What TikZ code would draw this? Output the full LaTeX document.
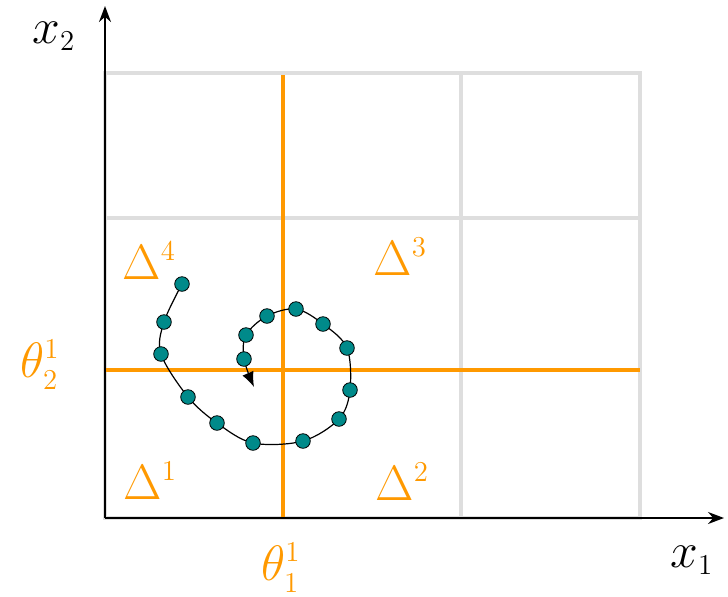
\documentclass[tikz,border=0pt]{standalone}
\usetikzlibrary{arrows.meta}
\DeclareMathSizes{24}{24}{15}{11}
\definecolor{myorange}{RGB}{255,153,0}
\definecolor{mygray}{RGB}{222,222,222}
\definecolor{myteal}{RGB}{0,138,138}
\tikzset{
  gridline/.style={draw=mygray, line width=2pt},
  orangeline/.style={draw=myorange, line width=2pt},
  axis/.style={draw=black, line width=0.9pt, -{Stealth[length=8pt,width=6pt]}},
  lbl/.style={anchor=base west, inner sep=0pt, font=\fontsize{24}{28}\selectfont},
  olbl/.style={lbl, text=myorange},
  dot/.style={circle, draw=black, line width=0.4pt, fill=myteal, minimum size=7.3pt, inner sep=0pt},
}
\begin{document}
\begin{tikzpicture}[x=0.5pt,y=-0.5pt]
\useasboundingbox (0,0) rectangle (728,596);
% grid
\draw[gridline] (105,73) rectangle (640,518);
\draw[gridline] (461,73) -- (461,518);
\draw[gridline] (105,218) -- (640,218);
% orange thresholds
\draw[orangeline] (283,75) -- (283,518);
\draw[orangeline] (105,370) -- (640,370);
% axes
\coordinate (O) at (105,518);
\coordinate (xe) at (724,518);
\coordinate (ye) at (105,6);
\draw[axis] (O) -- (xe);
\draw[axis] (O) -- (ye);
% labels
\node[lbl] (x2) at (32,43) {$x_2$};
\node[lbl] (x1) at (670,567) {$x_1$};
\node[olbl] (t2) at (20,377) {$\theta_2^1$};
\node[olbl] (t1) at (261,580) {$\theta_1^1$};
\node[olbl] (d4) at (122,279) {$\Delta^4$};
\node[olbl] (d3) at (373,275) {$\Delta^3$};
\node[olbl] (d1) at (123,499) {$\Delta^1$};
\node[olbl] (d2) at (375,500) {$\Delta^2$};
% spiral
\coordinate (p1) at (182,284);
\coordinate (p2) at (164,322);
\coordinate (p3) at (161,354);
\coordinate (p4) at (188,397);
\coordinate (p5) at (217,423);
\coordinate (p6) at (253,443);
\coordinate (p7) at (303,441);
\coordinate (p8) at (339,419);
\coordinate (p9) at (350,390);
\coordinate (p10) at (347,348);
\coordinate (p11) at (323,324);
\coordinate (p12) at (296,309);
\coordinate (p13) at (267,316);
\coordinate (p14) at (246,335);
\coordinate (p15) at (244,359);
\coordinate (tip) at (254,387);
\draw[black, line width=0.6pt, -{Latex[length=7.5pt,width=6pt]}] plot[smooth, tension=0.55] coordinates {(p1) (p2) (p3) (p4) (p5) (p6) (p7) (p8) (p9) (p10) (p11) (p12) (p13) (p14) (p15) (tip)};
\foreach \i in {1,...,15} {
  \node[dot] (d\i) at (p\i) {};
}
\end{tikzpicture}
\end{document}
